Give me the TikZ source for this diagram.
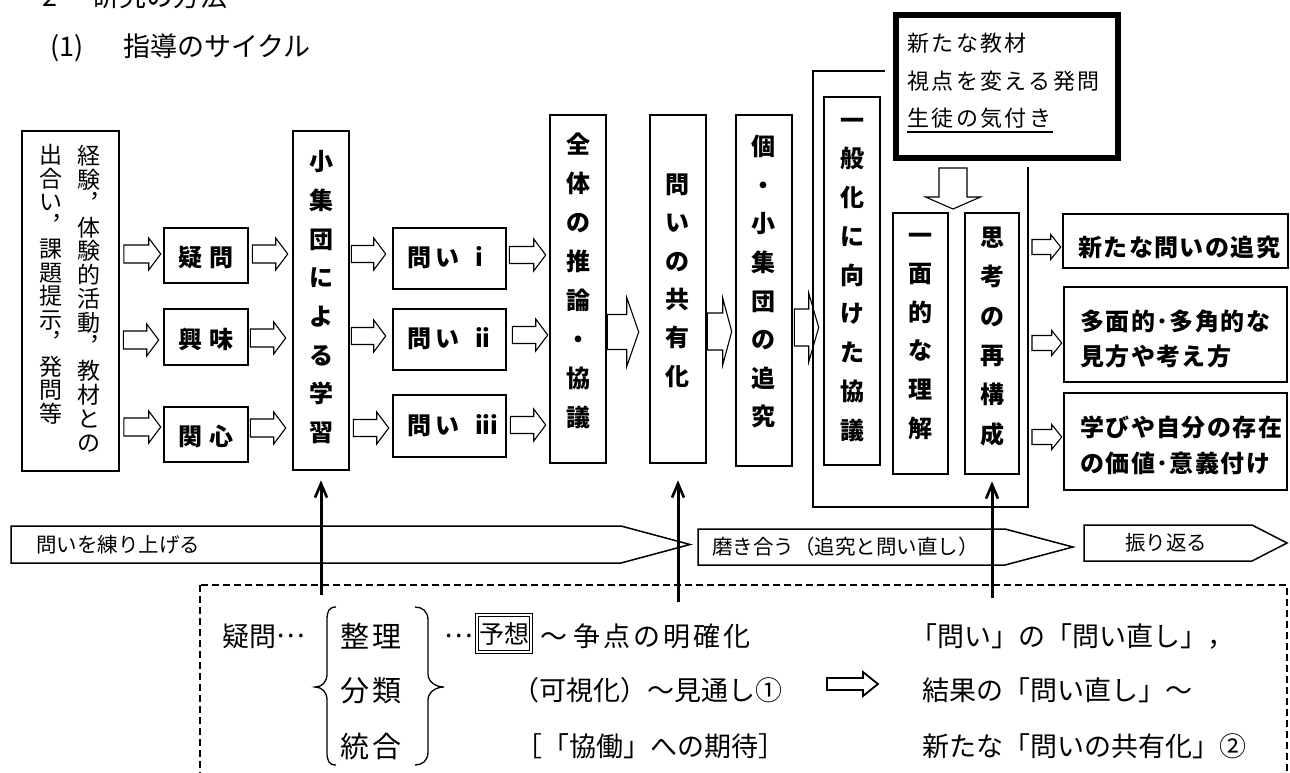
\documentclass[tikz,border=0pt]{standalone}
\usepackage{fontspec}
\setmainfont{Noto Sans CJK JP}
\usetikzlibrary{arrows.meta,calc}
\newcommand\vst{\rule[-.12em]{0pt}{1em}}
\newcommand\middots{\raisebox{.32em}{…}}
\newcommand\harr[8]{%
\draw[blk] let \p1=(#1), \p2=(#2), \p3=(0,#3) in
 (\x1+#7pt,\y3+#4pt) -- (\x2-#8pt-#6pt,\y3+#4pt) -- (\x2-#8pt-#6pt,\y3+#5pt) -- (\x2-#8pt,\y3)
 -- (\x2-#8pt-#6pt,\y3-#5pt) -- (\x2-#8pt-#6pt,\y3-#4pt) -- (\x1+#7pt,\y3-#4pt) -- cycle;}
\tikzset{
 box/.style={draw, line width=2.6pt, fill=white, inner sep=0pt},
 vt/.style={inner sep=0pt, align=center, font=\bfseries\fontsize{24}{#1}\selectfont,
   execute at begin node=\vst, execute at end node=\vst},
 vtreg/.style={inner sep=0pt, align=center, font=\fontsize{23}{#1}\selectfont,
   execute at begin node=\vst, execute at end node=\vst},
 hb/.style={inner sep=0pt, font=\bfseries\fontsize{24}{24}\selectfont, execute at begin node=\vst},
 hbl/.style={inner sep=0pt, anchor=west, font=\bfseries\fontsize{24}{24}\selectfont\addfontfeature{LetterSpace=6}, execute at begin node=\vst},
 blk/.style={draw, line width=1.1pt, fill=white, line join=miter},
 reg/.style={inner sep=0pt, anchor=west, font=\fontsize{#1}{#1}\selectfont, execute at begin node=\vst},
 thk/.style={inner sep=0pt, anchor=west, font=\fontsize{22}{22}\selectfont\addfontfeature{LetterSpace=11}, execute at begin node=\vst},
 banner/.style={draw, line width=1.5pt, fill=white},
 uparr/.style={line width=3pt, -{Straight Barb[length=14pt,width=12pt,line width=2.6pt]}},
 dbox/.style={draw, line width=1.4pt, dash pattern=on 7pt off 4pt},
}
\begin{document}
\begin{tikzpicture}[x=1pt,y=-1pt]
\useasboundingbox (0,0) rectangle (1290,772);
% titles
\node[reg=27] (title0) at (42,-4) {\makebox[50pt][l]{2}研究の方法};
\node[reg=27] (title1) at (50,47) {\makebox[73pt][l]{(1)}指導のサイクル};
% bracket frame
\draw[line width=2pt] (885,71) -- (813,71) -- (813,507) -- (1028,507) -- (1028,167);
\coordinate (brR) at (1028,167);
% boxes
\node[box, minimum width=97pt, minimum height=340pt] (L) at (70.5,301) {};
\node[box, minimum width=84pt, minimum height=55pt] (gimon) at (206,255.5) {};
\node[box, minimum width=84pt, minimum height=56pt] (kyomi) at (206,337) {};
\node[box, minimum width=84pt, minimum height=55pt] (kanshin) at (206,434.5) {};
\node[box, minimum width=56pt, minimum height=339pt] (shu) at (321,300.5) {};
\node[box, minimum width=113pt, minimum height=61pt] (t1) at (449.5,258.5) {};
\node[box, minimum width=113pt, minimum height=61pt] (t2) at (449.5,339.5) {};
\node[box, minimum width=113pt, minimum height=62pt] (t3) at (449.5,426) {};
\node[box, minimum width=56pt, minimum height=348pt] (zentai) at (578,289) {};
\node[box, minimum width=56pt, minimum height=348pt] (kyoyu) at (678,289) {};
\node[box, minimum width=56pt, minimum height=351pt] (ko) at (764,290.5) {};
\node[box, minimum width=56pt, minimum height=368pt] (ippan) at (852,281) {};
\node[box, minimum width=55pt, minimum height=261pt] (ichimen) at (920.5,343.5) {};
\node[box, minimum width=54pt, minimum height=261pt] (shiko) at (992,343.5) {};
\node[box, line width=6.5pt, minimum width=222pt, minimum height=143pt] (thick) at (1007,86.5) {};
\node[box, minimum width=225pt, minimum height=54pt] (r1) at (1175.5,241) {};
\node[box, minimum width=223pt, minimum height=95pt] (r2) at (1175.5,334.5) {};
\node[box, minimum width=223pt, minimum height=97pt] (r3) at (1175.5,441.5) {};
% texts in boxes
\node[vtreg=23.9] (Lt1) at (89,299.5) {経\\験\\︐\\体\\験\\的\\活\\動\\︐\\教\\材\\と\\の};
\node[vtreg=23.5] (Lt2) at (51,285) {出\\合\\い\\︐\\課\\題\\提\\示\\︐\\発\\問\\等};
\node[hb] (gimonT) at (206,257.5) {疑\hspace{8pt}問};
\node[hb] (kyomiT) at (206,339) {興\hspace{8pt}味};
\node[hb] (kanshinT) at (206,436.5) {関\hspace{8pt}心};
\node[vt=38.7] (shuT) at (321,297.5) {小\\集\\団\\に\\よ\\る\\学\\習};
\node[hb, anchor=west] (t1T) at (407,257) {問\hspace{4pt}い\hspace{16pt}i};
\node[hb, anchor=west] (t2T) at (407,338) {問\hspace{4pt}い\hspace{16pt}ii};
\node[hb, anchor=west] (t3T) at (407,425) {問\hspace{4pt}い\hspace{16pt}iii};
\node[vt=38.9] (zenT) at (578,281) {全\\体\\の\\推\\論\\・\\協\\議};
\node[vt=38.4] (kyoT) at (677,281) {問\\い\\の\\共\\有\\化};
\node[vt=38.6] (koT) at (763,282) {個\\・\\小\\集\\団\\の\\追\\究};
\node[vt=38.75] (ipT) at (852,280) {一\\般\\化\\に\\向\\け\\た\\協\\議};
\node[vt=38.6] (ichT) at (920,336.5) {一\\面\\的\\な\\理\\解};
\node[vt=39.4] (shT) at (992,336.5) {思\\考\\の\\再\\構\\成};
\node[thk] (th1) at (907,43) {新たな教材};
\node[thk] (th2) at (907,81) {視点を変える発問};
\node[thk] (th3) at (907,118) {生徒の気付き};
\draw[line width=1.5pt] (907,132) -- (1053,132);
\node[hbl] (r1T) at (1078,247) {新たな問いの追究};
\node[hbl] (r2a) at (1080,321) {多面的･多角的な};
\node[hbl] (r2b) at (1080,356) {見方や考え方};
\node[hbl] (r3a) at (1080,427) {学びや自分の存在};
\node[hbl] (r3b) at (1080,463) {の価値･意義付け};
% block arrows
\harr{L.east}{gimon.west}{254}{9}{16}{12}{3.5}{2}
\harr{L.east}{kyomi.west}{340}{9}{16}{12}{3}{4}
\harr{L.east}{kanshin.west}{427}{9}{16}{12}{3.5}{2}
\harr{gimon.east}{shu.west}{254}{9}{16}{12}{3}{4}
\harr{kyomi.east}{shu.west}{338}{9}{16}{12}{1}{6}
\harr{kanshin.east}{shu.west}{428}{9}{16}{12}{1}{6}
\harr{shu.east}{t1.west}{254}{8.5}{16}{12}{1}{6}
\harr{shu.east}{t2.west}{336}{8.5}{16}{12}{1}{6}
\harr{shu.east}{t3.west}{428}{8.5}{16}{12}{3}{3}
\harr{t1.east}{zentai.west}{255}{8.5}{16}{12}{2}{3}
\harr{t2.east}{zentai.west}{335}{8.5}{16}{12}{5}{1}
\harr{t3.east}{zentai.west}{425}{8.5}{16}{12}{3}{3}
\harr{zentai.east}{kyoyu.west}{332}{17.5}{34.5}{12}{0}{10}
\harr{kyoyu.east}{ko.west}{331.5}{18.5}{33.5}{9}{0}{3}
\begin{scope}[blk/.append style={fill=none}]
\harr{ko.east}{ippan.west}{327.5}{18.5}{34.5}{10}{1}{4}
\end{scope}
\harr{brR}{r1.west}{247}{7.5}{12.5}{10}{4}{1}
\harr{brR}{r2.west}{343}{7.5}{12.5}{10}{4}{1}
\harr{brR}{r3.west}{437}{7.5}{12.5}{10}{4}{1}
% down arrow
\coordinate (dtail) at (953,168);
\coordinate (dtip) at (953,209);
\draw[blk] let \p1=(dtail), \p2=(dtip) in (\x1-14pt,\y1) -- (\x1+14pt,\y1) -- (\x1+14pt,\y2+12pt)
  -- (\x1+27.5pt,\y2+12pt) -- (\x2,\y2) -- (\x1-27.5pt,\y2+12pt) -- (\x1-14pt,\y2+12pt) -- cycle;
% banners
\draw[banner] (11,526) -- (621,526) -- (690,544.5) -- (621,563) -- (11,563) -- cycle;
\node[reg=20.5] (b1) at (36,545) {問いを練り上げる};
\draw[banner] (698,529) -- (1005,529) -- (1073,547) -- (1005,565) -- (698,565) -- cycle;
\node[reg=20.5] (b2) at (712,547) {磨き合う（追究と問い直し）};
\draw[banner] (1084,525) -- (1252,525) -- (1287,543) -- (1252,561) -- (1084,561) -- cycle;
\node[reg=20.5] (b3) at (1125,543) {振り返る};
% dashed box
\draw[dbox] (200,585) rectangle (1287,800);
% up arrows
\coordinate (u1) at (321,595);
\coordinate (u2) at (678,602);
\coordinate (u3) at (992,598);
\draw[uparr, shorten >=9pt] (u1) -- (shu.south);
\draw[uparr, shorten >=16pt] (u2) -- (kyoyu.south);
\draw[uparr, shorten >=6pt] (u3) -- (shiko.south);
% dashed box contents
\node[reg=27] (q) at (222,636) {疑問\middots};
\draw[line width=1.3pt] (336,607) .. controls (329,607) and (327,611) .. (327,620) -- (327,674)
  .. controls (327,682) and (322,687) .. (315,687) .. controls (322,687) and (327,692) .. (327,700)
  -- (327,752) .. controls (327,761) and (329,765) .. (336,765);
\draw[line width=1.3pt] (415,607) .. controls (422,607) and (428,611) .. (428,620) -- (428,674)
  .. controls (428,682) and (436,687) .. (444,687) .. controls (436,687) and (428,692) .. (428,700)
  -- (428,752) .. controls (428,761) and (422,765) .. (415,765);
\node[reg=29] (s1) at (340,636) {整\hspace{3pt}理};
\node[reg=29] (s2) at (340,690) {分\hspace{3pt}類};
\node[reg=29] (s3) at (340,746) {統\hspace{3pt}合};
\node[reg=27] (dots) at (444,636) {\middots};
\node[draw, line width=1pt, double distance=2.2pt, minimum width=54pt, minimum height=37pt, inner sep=0pt,
  font=\fontsize{25}{25}\selectfont] (yoso) at (504,633.5) {予想};
\node[reg=27] (row1) at (540,636) {～\hspace{6pt}争\hspace{3pt}点\hspace{3pt}の\hspace{3pt}明\hspace{3pt}確\hspace{3pt}化};
\node[reg=27] (row2) at (512,690) {（可視化）～見通し①};
\node[reg=27] (row3) at (515,746) {［「協働」への期待］};
\coordinate (sa1) at (827,684);
\coordinate (sa2) at (878,684);
\begin{scope}[blk/.append style={line width=1.8pt}]
\harr{sa1}{sa2}{684}{6}{12}{15}{0}{0}
\end{scope}
\node[reg=27] (rr1) at (910,636) {「問い」の「問い直し」，};
\node[reg=27] (rr2) at (922,690) {結果の「問い直し」～};
\node[reg=27] (rr3) at (922,746) {新たな「問いの共有化」②};
\end{tikzpicture}
\end{document}
